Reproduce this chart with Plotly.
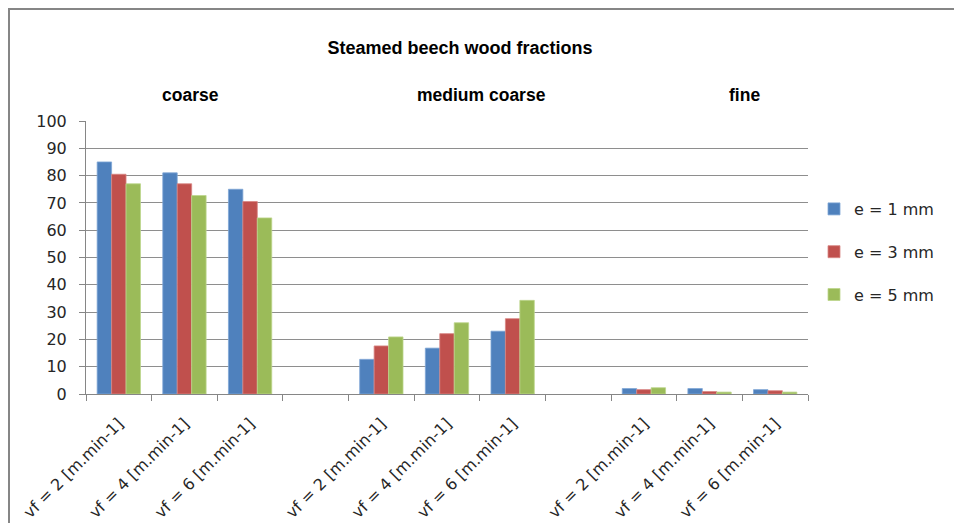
import plotly.graph_objects as go

ZW = "\u200b"
base_labels = ["vf = 2 [m.min-1]", "vf = 4 [m.min-1]", "vf = 6 [m.min-1]"]
categories = ([l for l in base_labels] + [ZW] +
              [l + ZW for l in base_labels] + [ZW * 2] +
              [l + ZW * 2 for l in base_labels])

e1 = [85, 81, 75, None, 12.7, 16.8, 23.0, None, 2.0, 2.0, 1.6]
e3 = [80.5, 77, 70.5, None, 17.6, 22.1, 27.6, None, 1.6, 0.9, 1.2]
e5 = [77, 72.7, 64.5, None, 20.9, 26.1, 34.3, None, 2.3, 0.7, 0.7]

series_names = ["e = 1 mm", "e = 3 mm", "e = 5 mm"]
series_values = [e1, e3, e5]
colors = ["#4F81BD", "#C0504D", "#9BBB59"]
edge = ["#7FA6D6", "#D88583", "#BCD68C"]

group_labels = ["coarse", "medium coarse", "fine"]
group_px = [182, 473, 736]

title_text = "Steamed beech wood fractions"

# page body has an 8px margin; the figure is laid out in its own pixel frame
W, H = 954, 515
L, T = 78, 113
plot_right, plot_bottom = 800, 386
R, B = W - plot_right, H - plot_bottom
pw, ph = W - L - R, H - T - B


def px2x(px):
    return (px - L) / pw


def py2y(py):
    return (plot_bottom - py) / ph


fig = go.Figure()
for i, (n, v) in enumerate(zip(series_names, series_values)):
    fig.add_trace(go.Bar(
        x=categories, y=v, name=n,
        marker=dict(color=colors[i], line=dict(color=edge[i], width=0.8)),
        legendgroup=n,
    ))

bold_family = "Liberation Sans, Arial, sans-serif"
font_family = "DejaVu Sans, sans-serif"
text_color = "#262626"

annotations = []
for g, px in zip(group_labels, group_px):
    annotations.append(dict(
        text="<b>" + g + "</b>", x=px2x(px), y=py2y(87),
        xref="paper", yref="paper", showarrow=False,
        xanchor="center", yanchor="middle",
        font=dict(size=17.5, color="#000000", family=bold_family)))

shapes = [
    dict(type="line", xref="paper", yref="paper",
         x0=px2x(0), x1=px2x(W + 10), y0=py2y(1), y1=py2y(1),
         line=dict(color="#868686", width=2)),
    dict(type="line", xref="paper", yref="paper",
         x0=px2x(1), x1=px2x(1), y0=py2y(0), y1=py2y(H + 10),
         line=dict(color="#868686", width=2)),
]

fig.update_layout(
    width=W, height=H,
    margin=dict(l=L, r=R, t=T, b=B, pad=0, autoexpand=False),
    paper_bgcolor="white", plot_bgcolor="white",
    barmode="group", bargap=0.34, bargroupgap=0,
    title=dict(text="<b>" + title_text + "</b>", x=452 / W, xanchor="center",
               y=1 - 40 / H, yanchor="middle",
               font=dict(size=18, color="#000000", family=bold_family)),
    font=dict(family=font_family, size=16, color=text_color),
    showlegend=True,
    legend=dict(x=px2x(806), xanchor="left", y=py2y(244), yanchor="middle",
                font=dict(size=16, color=text_color, family=font_family),
                tracegroupgap=19, itemwidth=30, bgcolor="rgba(0,0,0,0)"),
    annotations=annotations,
    shapes=shapes,
    xaxis=dict(type="category", tickson="boundaries", ticks="outside", ticklen=6,
               tickcolor="#868686", showline=True, linecolor="#868686", linewidth=1,
               showgrid=False, tickangle=-45,
               tickfont=dict(size=16, color=text_color, family=font_family),
               ticklabelstandoff=13,
               categoryorder="array", categoryarray=categories),
    yaxis=dict(range=[0, 100], dtick=10, tick0=0, ticks="outside", ticklen=6,
               tickcolor="#868686", showline=True, linecolor="#868686", linewidth=1,
               showgrid=True, gridcolor="#8E8E8E", gridwidth=1, zeroline=False,
               tickfont=dict(size=16, color=text_color, family=font_family),
               ticklabelstandoff=9),
)

fig.write_html("out.html")
